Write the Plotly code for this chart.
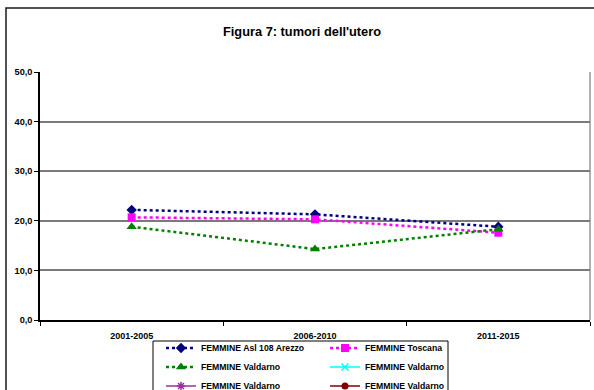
import plotly.graph_objects as go

# ---- data ----
periods = ["2001-2005", "2006-2010", "2011-2015"]
arezzo = [22.2, 21.3, 18.8]
toscana = [20.7, 20.3, 17.6]
valdarno = [18.8, 14.3, 18.3]
valdarno_b = [None, None, None]
valdarno_c = [None, None, None]
valdarno_d = [None, None, None]
y_ticks = [0, 10, 20, 30, 40, 50]

FONT = "Liberation Sans, Arial, sans-serif"

# plot-area pixel geometry
W, H = 594, 390
L, R, T, B = 40, 4, 72, 70
PW, PH = W - L - R, H - T - B


def px_x(p):
    return (p - L) / PW


def px_y(p):
    return (H - B - p) / PH


fig = go.Figure()

series = [
    ("FEMMINE Asl 108 Arezzo", arezzo, "#000080", "diamond", 8, "dot", 2.5, "a"),
    ("FEMMINE Toscana", toscana, "#FF00FF", "square", 8, "dot", 2.5, "b"),
    ("FEMMINE Valdarno", valdarno, "#008000", "triangle-up", 9, "dot", 2.5, "a"),
    ("FEMMINE Valdarno", valdarno_b, "#00FFFF", "x-thin-open", 7, "solid", 1.5, "b"),
    ("FEMMINE Valdarno", valdarno_c, "#993399", "asterisk-open", 7, "solid", 1.5, "a"),
    ("FEMMINE Valdarno", valdarno_d, "#800000", "circle", 7, "solid", 1.5, "b"),
]

for name, vals, col, sym, size, dash, lw, grp in series:
    fig.add_trace(go.Scatter(
        x=periods, y=vals, name=name, mode="lines+markers",
        line=dict(color=col, width=lw, dash=dash),
        marker=dict(symbol=sym, size=size, color=col,
                    line=dict(color=col, width=1.5 if "open" in sym else 0)),
        legendgroup=grp, showlegend=True,
    ))

fig.update_layout(
    width=W, height=H,
    margin=dict(l=L, r=R, t=T, b=B, autoexpand=False),
    paper_bgcolor="white", plot_bgcolor="white",
    separators=",.",
    font=dict(family=FONT, size=9, color="black"),
    showlegend=True,
    legend=dict(
        orientation="h", traceorder="grouped",
        x=px_x(161), xanchor="left", y=px_y(333.5), yanchor="top",
        entrywidth=119, entrywidthmode="pixels",
        bgcolor="rgba(0,0,0,0)", borderwidth=0, tracegroupgap=0,
        font=dict(family=FONT, size=8.7, color="black", weight="bold"),
        itemclick=False, itemdoubleclick=False,
    ),
    xaxis=dict(
        type="category", range=[-0.5, 2.5],
        showgrid=False, showline=True, linecolor="black", linewidth=1.5,
        ticks="outside", tickson="boundaries", ticklen=4, tickcolor="black",
        tickfont=dict(family=FONT, size=9, color="black", weight="bold"),
        ticklabelstandoff=6, fixedrange=True,
    ),
    yaxis=dict(
        range=[0, 50], tickvals=y_ticks, tickformat=".1f",
        showgrid=True, gridcolor="#7a7a7a", gridwidth=1.6,
        showline=True, linecolor="black", linewidth=1.5,
        ticks="outside", ticklen=4, tickcolor="black",
        tickfont=dict(family=FONT, size=9.2, color="black", weight="bold"),
        zeroline=False, fixedrange=True,
    ),
    annotations=[dict(
        text="Figura 7: tumori dell'utero", xref="paper", yref="paper",
        x=px_x(302), y=px_y(31), xanchor="center", yanchor="middle",
        showarrow=False,
        font=dict(family=FONT, size=12.8, color="black", weight="bold"),
    )],
    shapes=[
        # outer chart frame
        dict(type="rect", xref="paper", yref="paper",
             x0=px_x(6), x1=px_x(610), y0=px_y(8), y1=px_y(410),
             line=dict(color="#1a1a1a", width=1.5), fillcolor="rgba(0,0,0,0)",
             layer="below"),
        # plot area right border
        dict(type="line", xref="paper", yref="paper",
             x0=1, x1=1, y0=0, y1=1,
             line=dict(color="#b0b0b0", width=2), layer="below"),
        # legend box
        dict(type="rect", xref="paper", yref="paper",
             x0=px_x(153), x1=px_x(448), y0=px_y(420), y1=px_y(341),
             line=dict(color="black", width=1), fillcolor="rgba(0,0,0,0)",
             layer="above"),
    ],
)

fig.write_html(
    "out.html",
    config={"displayModeBar": False, "staticPlot": False},
    post_script="document.body.style.margin='0px';document.body.style.overflow='hidden';",
)
